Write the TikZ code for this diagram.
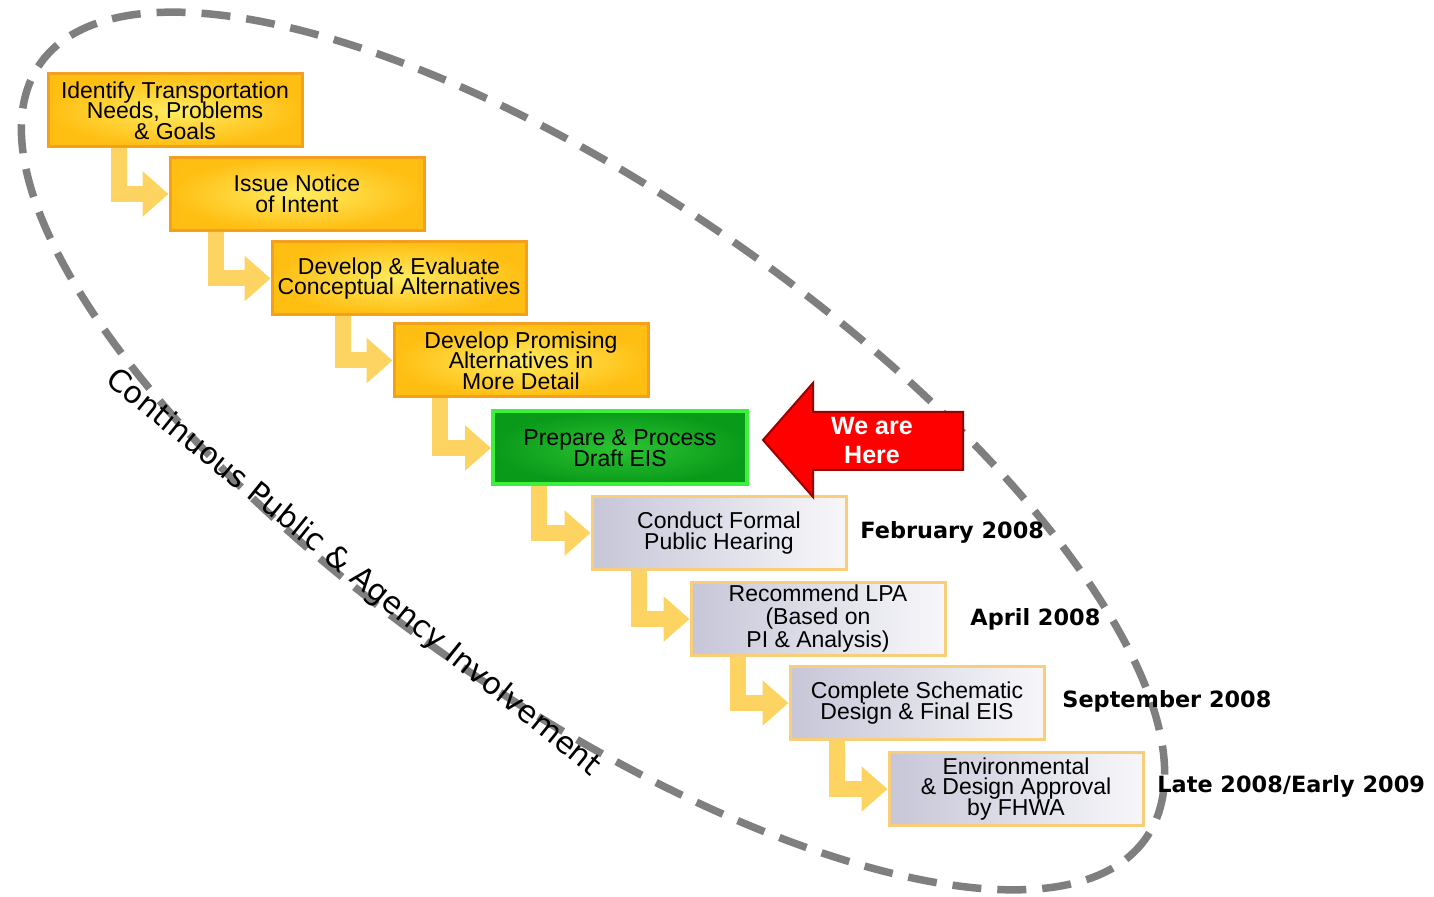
\documentclass[tikz,border=0pt]{standalone}
\usepackage{fontspec}
\setmainfont{Liberation Sans}
\newfontfamily\dvs{DejaVu Sans}
\usetikzlibrary{arrows.meta,calc}
\definecolor{ygold}{HTML}{FFBE12}
\definecolor{ylight}{HTML}{FFEC60}
\definecolor{yborder}{HTML}{F4A01E}
\definecolor{gdark}{HTML}{0A9A1A}
\definecolor{glight}{HTML}{2BC432}
\definecolor{gborder}{HTML}{3CF03C}
\definecolor{pgray}{HTML}{C6C6D8}
\definecolor{pwhite}{HTML}{F7F7FA}
\definecolor{pborder}{HTML}{F8CF78}
\definecolor{connc}{HTML}{FDD462}
\definecolor{dashc}{HTML}{7F7F7F}
\definecolor{redf}{HTML}{FF0000}
\definecolor{redb}{HTML}{9A0000}
\newcommand\stepfont{\fontsize{11.5}{10.3}\selectfont\lineskiplimit=-20pt\relax}
\newcommand\stepfontwide{\fontsize{11.5}{11.5}\selectfont\lineskiplimit=-20pt\relax}
\begin{document}
\begin{tikzpicture}[x=0.5pt,y=-0.5pt,
  stepbase/.style={rectangle, minimum width=127pt, minimum height=36.5pt, inner sep=0pt, align=center, line width=1.5pt, font=\stepfont, text=black},
  ybox/.style={stepbase, draw=yborder, inner color=ylight, outer color=ygold},
  gbox/.style={stepbase, draw=gborder, line width=2pt, inner color=glight, outer color=gdark},
  pbox/.style={stepbase, draw=pborder, left color=pgray, right color=pwhite},
  conn/.style={draw=connc, line width=8pt, -{Triangle[width=22pt,length=13pt]}},
  datelbl/.style={anchor=west, inner sep=0pt, font=\dvs\bfseries\fontsize{11.2}{13}\selectfont},
  involve/.style={draw=dashc, line width=3.75pt, dash pattern=on 14.5pt off 8pt},
]
\useasboundingbox (0,0) rectangle (1434,897);
\fill[white] (0,0) rectangle (1434,897);

% dashed enclosure
\draw[involve, rotate around={-35:(593,451)}] (593,451) ellipse [x radius=675, y radius=252];

% steps
\node[ybox] (b1) at (175,110.5) {Identify Transportation\\Needs, Problems\\\& Goals};
\node[ybox] (b2) at (297,194) {Issue Notice\\of Intent};
\node[ybox] (b3) at (399,278.5) {Develop \& Evaluate\\Conceptual Alternatives};
\node[ybox] (b4) at (521,360.5) {Develop Promising\\Alternatives in\\More Detail};
\node[gbox] (b5) at (620,448) {Prepare \& Process\\Draft EIS};
\node[pbox] (b6) at (719,533) {Conduct Formal\\Public Hearing};
\node[pbox, font=\stepfontwide] (b7) at (818,619) {Recommend LPA\\(Based on\\PI \& Analysis)};
\node[pbox] (b8) at (917,703) {Complete Schematic\\Design \& Final EIS};
\node[pbox] (b9) at (1016,789) {Environmental\\\& Design Approval\\by FHWA};

% connectors
\draw[conn] ($(b1.south west)+(72,0)$) |- (b2.west);
\draw[conn] ($(b2.south west)+(47,0)$) |- (b3.west);
\draw[conn] ($(b3.south west)+(72,0)$) |- (b4.west);
\draw[conn] ($(b4.south west)+(47,0)$) |- (b5.west);
\draw[conn] ($(b5.south west)+(48,0)$) |- (b6.west);
\draw[conn] ($(b6.south west)+(48,0)$) |- (b7.west);
\draw[conn] ($(b7.south west)+(48,0)$) |- (b8.west);
\draw[conn] ($(b8.south west)+(48,0)$) |- (b9.west);

% we are here arrow
\draw[fill=redf, draw=redb, line width=1pt, line join=miter]
  (763,440) -- (813,383) -- (813,412) -- (963,412) -- (963,470) -- (813,470) -- (813,497) -- cycle;
\node[font=\bfseries\fontsize{12.5}{14.5}\selectfont, text=white, align=center, inner sep=0pt] (here) at (872,441) {We are\\Here};

% dates
\node[datelbl] (d1) at (860,532) {February 2008};
\node[datelbl] (d2) at (970,619) {April 2008};
\node[datelbl] (d3) at (1062,701) {September 2008};
\node[datelbl] (d4) at (1157,786) {Late 2008/Early 2009};

% rotated label
\node[font=\dvs\fontsize{15.2}{18}\selectfont, rotate=-39, inner sep=0pt] (involvement) at (353,573) {Continuous Public \& Agency Involvement};
\end{tikzpicture}
\end{document}
